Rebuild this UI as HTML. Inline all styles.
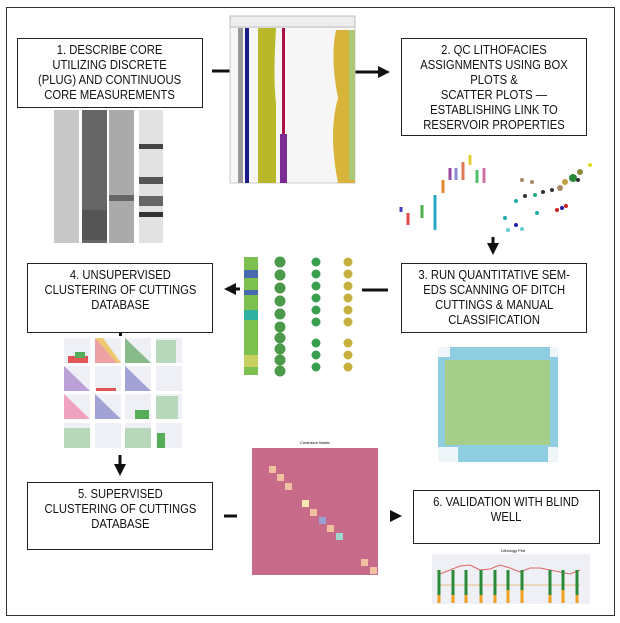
<!DOCTYPE html>
<html><head><meta charset="utf-8"><style>
body{margin:0;width:620px;height:623px;background:#fff;position:relative;overflow:hidden;font-family:"Liberation Sans",sans-serif}
.b{position:absolute;border:1.5px solid #222;background:#fff;box-sizing:border-box;text-align:center;font-size:12.5px;line-height:15px;color:#111;padding-top:4px;white-space:nowrap}
.b span{display:inline-block;transform:scaleX(.9)}
.a{position:absolute}
</style></head><body>
<div class="a" style="left:6px;top:7px;width:607px;height:607px;border:1.5px solid #333"></div>
<div class="b" style="left:17px;top:38px;width:186px;height:70px"><span>1. DESCRIBE CORE<br>UTILIZING DISCRETE<br>(PLUG) AND CONTINUOUS<br>CORE MEASUREMENTS</span></div>
<div class="b" style="left:401px;top:38px;width:186px;height:98px"><span>2. QC LITHOFACIES<br>ASSIGNMENTS USING BOX<br>PLOTS &amp;<br>SCATTER PLOTS —<br>ESTABLISHING LINK TO<br>RESERVOIR PROPERTIES</span></div>
<div class="b" style="left:27px;top:263px;width:186px;height:70px"><span>4. UNSUPERVISED<br>CLUSTERING OF CUTTINGS<br>DATABASE</span></div>
<div class="b" style="left:401px;top:263px;width:186px;height:70px"><span>3. RUN QUANTITATIVE SEM-<br>EDS SCANNING OF DITCH<br>CUTTINGS &amp; MANUAL<br>CLASSIFICATION</span></div>
<div class="b" style="left:27px;top:482px;width:186px;height:68px"><span>5. SUPERVISED<br>CLUSTERING OF CUTTINGS<br>DATABASE</span></div>
<div class="b" style="left:413px;top:490px;width:187px;height:54px"><span>6. VALIDATION WITH BLIND<br>WELL</span></div>
<svg class="a" style="left:0;top:0" width="620" height="623">
<defs><marker id="m" markerWidth="4" markerHeight="4" refX="2" refY="2" orient="auto"><path d="M0,0L4,2L0,4z" fill="#111"/></marker></defs>
<g stroke="#111" stroke-width="3">
<line x1="212" y1="71" x2="230" y2="71"/>
<line x1="355" y1="72" x2="384" y2="72" marker-end="url(#m)"/>
<line x1="493" y1="237" x2="493" y2="249" marker-end="url(#m)"/>
<line x1="362" y1="290" x2="388" y2="290"/>
<line x1="240" y1="289" x2="230" y2="289" marker-end="url(#m)"/>
<line x1="120" y1="455" x2="120" y2="470" marker-end="url(#m)"/>
<line x1="224" y1="516" x2="237" y2="516"/>
<line x1="390" y1="516" x2="396" y2="516" marker-end="url(#m)"/>
</g>
<rect x="119" y="333" width="3" height="3" fill="#111"/>
<!-- core photos -->
<rect x="54" y="110" width="25" height="133" fill="#c8c8c8"/>
<rect x="82" y="110" width="25" height="133" fill="#666"/>
<rect x="109" y="110" width="25" height="133" fill="#aaa"/>
<rect x="139" y="110" width="24" height="133" fill="#e2e2e2"/>
<rect x="139" y="144" width="24" height="5" fill="#444"/><rect x="139" y="177" width="24" height="7" fill="#555"/><rect x="139" y="196" width="24" height="10" fill="#666"/><rect x="139" y="212" width="24" height="5" fill="#333"/>
<rect x="109" y="195" width="25" height="6" fill="#666"/><rect x="82" y="210" width="25" height="30" fill="#555"/>
<!-- log -->
<rect x="230" y="16" width="125" height="167" fill="#f6f6f6" stroke="#ccc"/>
<rect x="230" y="16" width="125" height="11" fill="#eee" stroke="#bbb"/>
<rect x="238" y="28" width="5" height="155" fill="#999"/>
<rect x="245" y="28" width="4" height="155" fill="#1b1b8a"/>
<path d="M258,28h18q-3,50,0,75l0,80h-18z" fill="#b8b82a"/>
<rect x="282" y="28" width="3" height="155" fill="#b0104a"/>
<rect x="280" y="134" width="7" height="49" fill="#7a2a90"/>
<path d="M336,30h19v153h-17q-10,-50,0,-85q-8,-40,-2,-68z" fill="#d9b43a"/>
<rect x="349" y="30" width="6" height="150" fill="#9ad090" opacity=".7"/>
<!-- box plots -->
<g stroke-width="3"><line x1="401" y1="207" x2="401" y2="212" stroke="#4040c0"/><line x1="408" y1="213" x2="408" y2="225" stroke="#e04a4a"/><line x1="422" y1="205" x2="422" y2="218" stroke="#4ab04a"/><line x1="435" y1="195" x2="435" y2="230" stroke="#28a8c8"/><line x1="443" y1="180" x2="443" y2="193" stroke="#e08a30"/><line x1="450" y1="168" x2="450" y2="180" stroke="#9a4aa0"/><line x1="456" y1="168" x2="456" y2="180" stroke="#8a8ad0"/><line x1="463" y1="162" x2="463" y2="180" stroke="#e07a5a"/><line x1="470" y1="155" x2="470" y2="165" stroke="#e0d030"/><line x1="477" y1="170" x2="477" y2="183" stroke="#50c070"/><line x1="484" y1="168" x2="484" y2="183" stroke="#d070a0"/></g>
<g fill="#333"><circle cx="590" cy="165" r="2" fill="#dd2"/><circle cx="580" cy="172" r="3" fill="#8a8a3a"/><circle cx="573" cy="178" r="4" fill="#2a8a3a"/><circle cx="565" cy="182" r="3" fill="#c0a040"/><circle cx="578" cy="180" r="2"/><circle cx="560" cy="188" r="3" fill="#a86"/><circle cx="552" cy="190" r="2"/><circle cx="543" cy="192" r="2"/><circle cx="535" cy="195" r="2" fill="#2a8"/><circle cx="532" cy="182" r="2" fill="#a86"/><circle cx="525" cy="196" r="2"/><circle cx="522" cy="180" r="2" fill="#a86"/><circle cx="557" cy="210" r="2" fill="#c22"/><circle cx="562" cy="208" r="2" fill="#22a"/><circle cx="566" cy="206" r="2" fill="#c22"/><circle cx="505" cy="218" r="2" fill="#2aa"/><circle cx="516" cy="201" r="2" fill="#2aa"/><circle cx="537" cy="213" r="2" fill="#2aa"/><circle cx="516" cy="225" r="2" fill="#22a"/><circle cx="508" cy="230" r="2" fill="#6cc"/><circle cx="522" cy="229" r="2" fill="#6cc"/></g>
<!-- pies -->
<rect x="244" y="257" width="14" height="118" fill="#7cc050"/><rect x="244" y="270" width="14" height="8" fill="#4a6ab0"/><rect x="244" y="290" width="14" height="5" fill="#4a6ab0"/><rect x="244" y="310" width="14" height="10" fill="#30b0a0"/><rect x="244" y="355" width="14" height="12" fill="#c8d060"/>
<g fill="#4a9a4a"><circle cx="280" cy="262" r="5.5"/><circle cx="280" cy="275" r="5.5"/><circle cx="280" cy="288" r="5.5"/><circle cx="280" cy="301" r="5.5"/><circle cx="280" cy="314" r="5.5"/><circle cx="280" cy="327" r="5.5"/><circle cx="280" cy="338" r="5.5"/><circle cx="280" cy="349" r="5.5"/><circle cx="280" cy="360" r="5.5"/><circle cx="280" cy="371" r="5.5"/></g>
<g fill="#3aa050"><circle cx="316" cy="262" r="4.5"/><circle cx="316" cy="274" r="4.5"/><circle cx="316" cy="286" r="4.5"/><circle cx="316" cy="298" r="4.5"/><circle cx="316" cy="310" r="4.5"/><circle cx="316" cy="322" r="4.5"/><circle cx="316" cy="343" r="4.5"/><circle cx="316" cy="355" r="4.5"/><circle cx="316" cy="367" r="4.5"/></g>
<g fill="#c8b040"><circle cx="348" cy="262" r="4.5"/><circle cx="348" cy="274" r="4.5"/><circle cx="348" cy="286" r="4.5"/><circle cx="348" cy="298" r="4.5"/><circle cx="348" cy="310" r="4.5"/><circle cx="348" cy="322" r="4.5"/><circle cx="348" cy="343" r="4.5"/><circle cx="348" cy="355" r="4.5"/><circle cx="348" cy="367" r="4.5"/></g>
<!-- SEM -->
<path d="M438,347h120v115h-120z" fill="#eef6fa"/>
<path d="M450,347h100v10h8v90h-10v15h-90v-15h-20v-90h12z" fill="#8fcde0"/>
<path d="M445,360h105v85h-105z" fill="#b8d040" opacity=".55"/>
<!-- scatter matrix -->
<g fill="#eef0f6"><rect x="64" y="338" width="26" height="25"/><rect x="95" y="338" width="26" height="25"/><rect x="125" y="338" width="26" height="25"/><rect x="156" y="338" width="26" height="25"/><rect x="64" y="366" width="26" height="25"/><rect x="95" y="366" width="26" height="25"/><rect x="125" y="366" width="26" height="25"/><rect x="156" y="366" width="26" height="25"/><rect x="64" y="394" width="26" height="25"/><rect x="95" y="394" width="26" height="25"/><rect x="125" y="394" width="26" height="25"/><rect x="156" y="394" width="26" height="25"/><rect x="64" y="423" width="26" height="25"/><rect x="95" y="423" width="26" height="25"/><rect x="125" y="423" width="26" height="25"/><rect x="156" y="423" width="26" height="25"/></g>
<g opacity=".75"><path d="M95,338l26,25h-26z" fill="#e88"/><path d="M95,338h8l18,25h-4z" fill="#eb4"/><path d="M125,338l26,25h-26z" fill="#6a6"/><path d="M156,340h20v23h-20z" fill="#7b7" opacity=".6"/><path d="M64,366l26,25h-26z" fill="#a8c"/><path d="M125,366l26,25h-26z" fill="#88c"/><path d="M64,394l26,25h-26z" fill="#e8a"/><path d="M95,394l26,25h-26z" fill="#88c"/><path d="M156,396h22v23h-22z" fill="#7b7" opacity=".6"/><path d="M64,428h26v20h-26z" fill="#7b7" opacity=".6"/><path d="M125,428h26v20h-26z" fill="#7b7" opacity=".6"/><rect x="157" y="433" width="8" height="15" fill="#292"/><rect x="135" y="410" width="14" height="9" fill="#292"/><rect x="68" y="356" width="20" height="7" fill="#d22"/><rect x="75" y="352" width="10" height="6" fill="#292"/><rect x="96" y="388" width="20" height="3" fill="#d22"/></g>
<!-- confusion matrix -->
<text x="315" y="444" font-size="4" text-anchor="middle" font-family="Liberation Sans">Confusion Matrix</text>
<rect x="252" y="448" width="126" height="127" fill="#c86a8a"/>
<g fill="#f0c0a0"><rect x="269" y="466" width="7" height="7"/><rect x="277" y="474" width="7" height="7"/><rect x="285" y="483" width="7" height="7"/><rect x="302" y="500" width="7" height="7" fill="#f4e8b0"/><rect x="310" y="509" width="7" height="7"/><rect x="319" y="517" width="7" height="7" fill="#9aa0d0"/><rect x="327" y="525" width="7" height="7"/><rect x="336" y="533" width="7" height="7" fill="#a0d8d0"/><rect x="361" y="559" width="7" height="7"/><rect x="370" y="567" width="7" height="7"/></g>
<!-- lithology -->
<text x="513" y="552" font-size="4" text-anchor="middle" font-family="Liberation Sans">Lithology Plot</text>
<rect x="432" y="554" width="158" height="50" fill="#eef0f6"/>
<polyline points="440,574 450,570 460,566 470,565 480,570 490,569 500,565 510,568 520,572 530,568 540,568 550,570 560,572 570,574 580,570" fill="none" stroke="#d66" stroke-width="1"/>
<polyline points="440,585 580,585" fill="none" stroke="#eb8" stroke-width="1"/>
<g stroke-width="3"><line x1="439" y1="570" x2="439" y2="603" stroke="#2a8a3a"/><line x1="453" y1="570" x2="453" y2="603" stroke="#2a8a3a"/><line x1="466" y1="570" x2="466" y2="603" stroke="#2a8a3a"/><line x1="481" y1="570" x2="481" y2="603" stroke="#2a8a3a"/><line x1="495" y1="570" x2="495" y2="603" stroke="#2a8a3a"/><line x1="508" y1="570" x2="508" y2="603" stroke="#2a8a3a"/><line x1="522" y1="570" x2="522" y2="603" stroke="#2a8a3a"/><line x1="550" y1="570" x2="550" y2="603" stroke="#2a8a3a"/><line x1="563" y1="570" x2="563" y2="603" stroke="#2a8a3a"/><line x1="577" y1="570" x2="577" y2="603" stroke="#2a8a3a"/></g>
<g stroke-width="3" stroke="#f0a020"><line x1="439" y1="595" x2="439" y2="603"/><line x1="453" y1="595" x2="453" y2="603"/><line x1="466" y1="595" x2="466" y2="603"/><line x1="481" y1="595" x2="481" y2="603"/><line x1="495" y1="595" x2="495" y2="603"/><line x1="508" y1="590" x2="508" y2="603"/><line x1="522" y1="590" x2="522" y2="603"/><line x1="550" y1="595" x2="550" y2="603"/><line x1="563" y1="590" x2="563" y2="603"/><line x1="577" y1="595" x2="577" y2="603"/></g>
</svg>
</body></html>
